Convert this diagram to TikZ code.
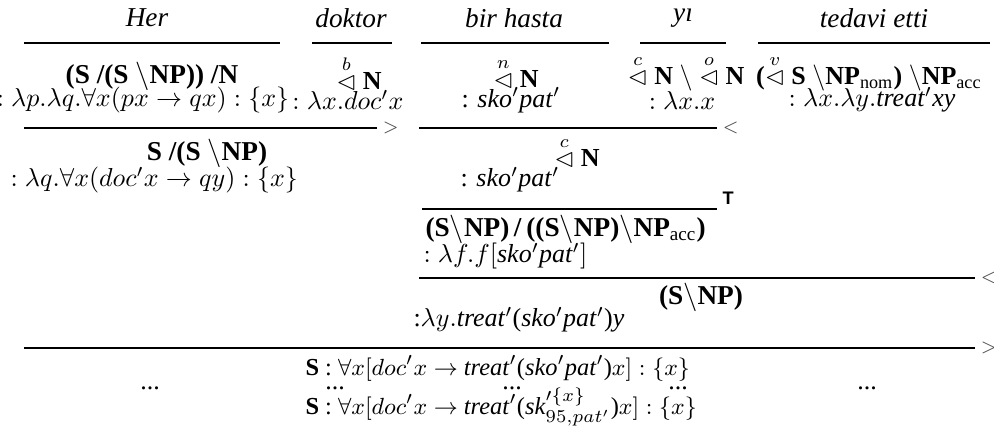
\documentclass[tikz,border=0pt]{standalone}
\usepackage{amsmath,amssymb}
\usepackage{fontspec}
\setmainfont{Liberation Serif}
\setsansfont{Liberation Sans}
\newcommand{\bs}{$\backslash$}
\newcommand{\tri}[1]{$\overset{#1}{\lhd}$}
\newcommand{\pr}{$'$}
\begin{document}
\begin{tikzpicture}[x=0.385pt,y=-0.385pt,
  word/.style={font=\fontsize{10.5}{12}\selectfont\itshape,inner sep=0pt},
  txt/.style={inner sep=0pt},
  big/.style={inner sep=0pt,font=\fontsize{10.5}{12}\selectfont},
  small/.style={inner sep=0pt,font=\fontsize{9.4}{11}\selectfont},
  rule/.style={line width=0.8pt},
  lab/.style={inner sep=0pt,anchor=west,font=\scriptsize,text=black!70},
  tlab/.style={inner sep=0pt,anchor=west,font=\scriptsize\sffamily\bfseries}]
\useasboundingbox (0,0) rectangle (994,439);
% words
\node[word] (w1) at (147,18) {Her};
\node[word] (w2) at (351,18) {doktor};
\node[word] (w3) at (514,18) {bir hasta};
\node[word] (w4) at (683,18) {yı};
\node[word] (w5) at (874,18) {tedavi etti};
% lexical lines
\coordinate (a1) at (24,43);  \coordinate (b1) at (280,43);
\coordinate (a2) at (312,43); \coordinate (b2) at (392,43);
\coordinate (a3) at (421,43); \coordinate (b3) at (609,43);
\coordinate (a4) at (640,43); \coordinate (b4) at (726,43);
\coordinate (a5) at (758,43); \coordinate (b5) at (990,43);
\foreach \i in {1,...,5} \draw[rule] (a\i) -- (b\i);
% categories
\node[big] (c1) at (152,76) {\textbf{(S /(S }\bs\textbf{NP)) /N}};
\node[txt] (c2) at (359,73) {\tri{b} \textbf{N}};
\node[txt] (c3) at (516,73) {\tri{n} \textbf{N}};
\node[txt] (c4) at (686,73) {\tri{c} \textbf{N} \bs\ \tri{o} \textbf{N}};
\node[txt] (c5) at (869,73) {\textbf{(}\tri{v} \textbf{S} \bs\textbf{NP}\textsubscript{nom}\textbf{)} \bs\textbf{NP}\textsubscript{acc}};
% semantics
\node[txt] (s1) at (143,100) {$:\lambda p.\lambda q.\forall x(px\rightarrow qx):\{x\}$};
\node[txt] (s2) at (348,100) {$:\lambda x.doc'x$};
\node[txt] (s3) at (511,100) {: \textit{sko}\pr\textit{pat}\pr};
\node[txt] (s4) at (682,100) {$:\lambda x.x$};
\node[txt] (s5) at (872,100) {$:\lambda x.\lambda y.$\textit{treat}\pr\textit{xy}};
% row 1 lines
\coordinate (p1) at (24,128);  \coordinate (q1) at (377,128);
\coordinate (p2) at (419,128); \coordinate (q2) at (717,128);
\draw[rule] (p1) -- (q1); \node[lab] (g1) at ([xshift=2]q1) {$>$};
\draw[rule] (p2) -- (q2); \node[lab] (g2) at ([xshift=2]q2) {$<$};
% row 2
\node[big] (r2a) at (207,153) {\textbf{S /(S }\bs\textbf{NP)}};
\node[txt,anchor=west] (r2b) at (10,180) {$:\lambda q.\forall x(doc'x\rightarrow qy):\{x\}$};
\node[txt] (r2c) at (577,152) {\tri{c} \textbf{N}};
\node[txt,anchor=west] (r2d) at (460,180) {: \textit{sko}\pr\textit{pat}\pr};
% row 3
\coordinate (p3) at (422,209); \coordinate (q3) at (717,209);
\draw[rule] (p3) -- (q3); \node[tlab] (g3) at ([xshift=2,yshift=4]q3) {T};
\node[big,anchor=west] (r3a) at (425,229) {\textbf{(S}\bs\textbf{NP)}\,\textbf{/}\,\textbf{((S}\bs\textbf{NP)}\bs\textbf{NP}\textsubscript{acc}\textbf{)}};
\node[txt,anchor=west] (r3b) at (423,256) {$:\lambda f.f[$\textit{sko}\pr\textit{pat}\pr$]$};
% row 4
\coordinate (p4) at (419,278); \coordinate (q4) at (975,278);
\draw[rule] (p4) -- (q4); \node[lab] (g4) at ([xshift=2]q4) {$<$};
\node[big] (r4a) at (701,297) {\textbf{(S}\bs\textbf{NP)}};
\node[txt,anchor=west] (r4b) at (413,320) {:$\lambda y.$\textit{treat}\pr(\textit{sko}\pr\textit{pat}\pr)\textit{y}};
% row 5
\coordinate (p5) at (24,348); \coordinate (q5) at (975,348);
\draw[rule] (p5) -- (q5); \node[lab] (g5) at ([xshift=2]q5) {$>$};
\node[small,anchor=west] (r5a) at (305,368) {\textbf{S} : $\forall x[doc'x\rightarrow$ \textit{treat}\pr(\textit{sko}\pr\textit{pat}\pr)$x]:\{x\}$};
\node[txt] (d1) at (150,388) {...};
\node[txt] (d2) at (335,388) {...};
\node[txt] (d3) at (512,388) {...};
\node[txt] (d4) at (678,388) {...};
\node[txt] (d5) at (867,388) {...};
\node[small,anchor=west] (r5b) at (305,407) {\textbf{S} : $\forall x[doc'x\rightarrow$ \textit{treat}\pr(\textit{sk}$'^{\{x\}}_{95,pat'}$)$x]:\{x\}$};
\end{tikzpicture}
\end{document}
